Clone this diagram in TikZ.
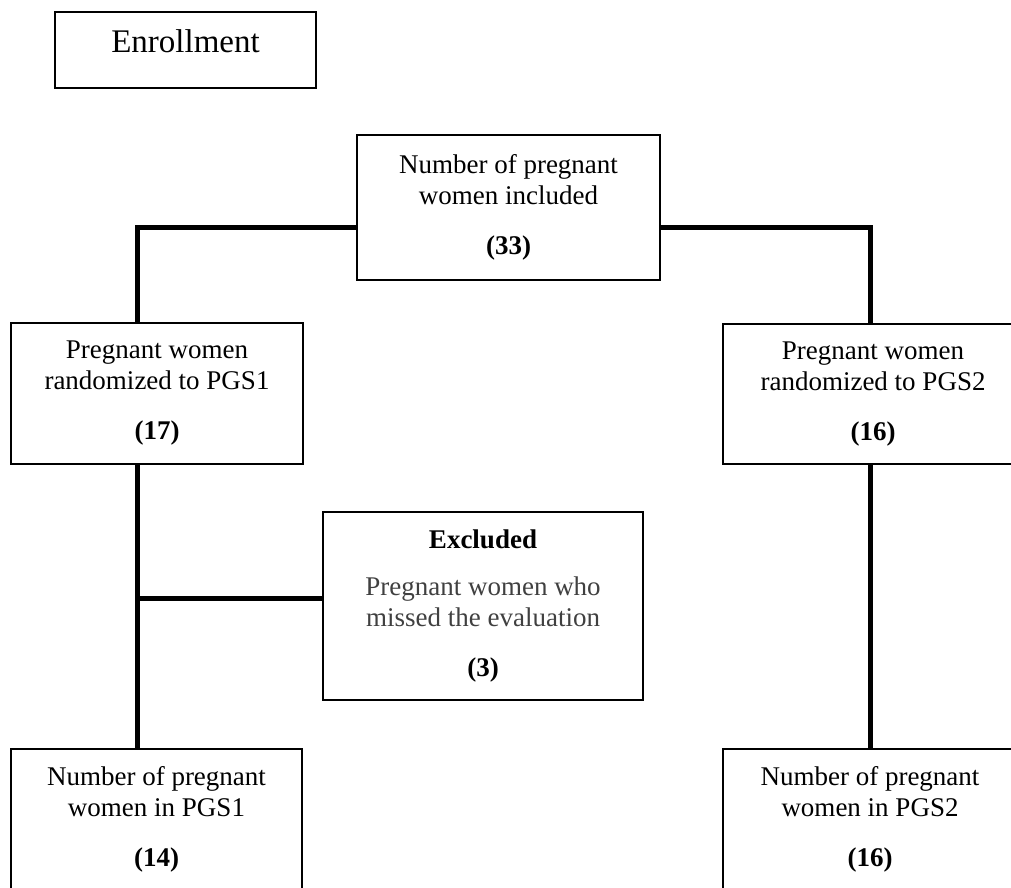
\documentclass[tikz,border=0pt]{standalone}
\usepackage{fontspec}
\setmainfont{Liberation Serif}
\begin{document}
\begin{tikzpicture}[x=1pt,y=-1pt,
	box node/.style = {rectangle,draw,line width=1.6pt,align=center,inner sep=0pt,font=\fontsize{27}{31}\selectfont},
	link/.style = {line width=5pt}]
	\useasboundingbox (0,0) rectangle (1011,887);
	
	\node[box node,font=\fontsize{33}{36}\selectfont,minimum width=261pt,text height=40pt,text depth=36pt] at (185.5,50) (0) {Enrollment};
	\node[box node,minimum width=303pt,minimum height=145pt] at (508.5,207.5) (1) {Number of pregnant\\women included\\[19pt]\textbf{(33)}};
	\node[box node,minimum width=292pt,minimum height=141pt] at (157,393.5) (2) {Pregnant women\\randomized to PGS1\\[19pt]\textbf{(17)}};
	\node[box node,minimum width=300pt,minimum height=140pt] at (873,394) (3) {Pregnant women\\randomized to PGS2\\[19pt]\textbf{(16)}};
	\node[box node,minimum width=320pt,minimum height=188pt] at (483,606) (4) {\textbf{Excluded}\\[16pt]\textcolor{black!75}{Pregnant women who}\\\textcolor{black!75}{missed the evaluation}\\[19pt]\textbf{(3)}};
	\node[box node,minimum width=291pt,minimum height=140pt] at (156.5,819) (5) {Number of pregnant\\women in PGS1\\[19pt]\textbf{(14)}};
	\node[box node,minimum width=294pt,minimum height=140pt] at (870,819) (6) {Number of pregnant\\women in PGS2\\[19pt]\textbf{(16)}};
	\coordinate (7) at (137,598);
	
	\draw[link] ([yshift=-19.5pt]1.west) -| ([xshift=-20pt]2.north);
	\draw[link] ([yshift=-19.5pt]1.east) -| ([xshift=-3pt]3.north);
	\draw[link] ([xshift=-20pt]2.south) -- ([xshift=-20pt]2.south |- 5.north);
	\draw[link] ([xshift=-3pt]3.south) -- ([xshift=-3pt]3.south |- 6.north);
	\draw[link] (7) -- (7 -| 4.west);
\end{tikzpicture}
\end{document}
